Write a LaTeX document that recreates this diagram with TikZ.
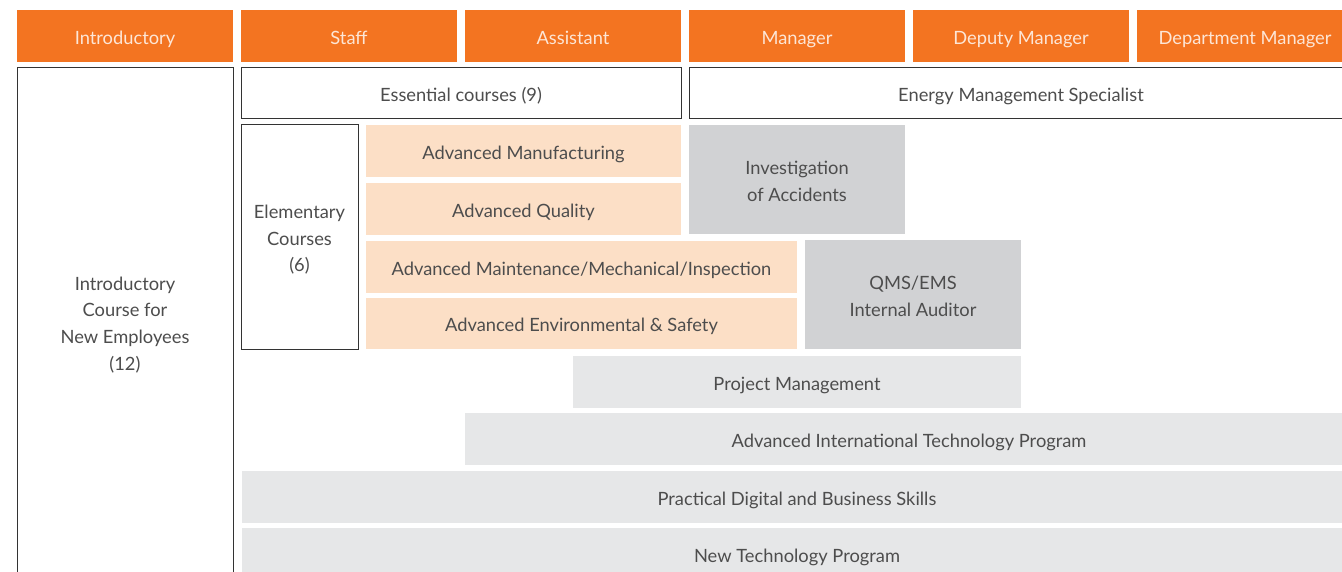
\documentclass[tikz,border=0pt]{standalone}
\usepackage{fontspec}
\setmainfont{Lato}
\definecolor{hdr}{HTML}{F37421}
\definecolor{hdrtxt}{HTML}{FDE6D6}
\definecolor{peach}{HTML}{FCDFC6}
\definecolor{dgray}{HTML}{D1D2D4}
\definecolor{lgray}{HTML}{E6E7E8}
\definecolor{txt}{HTML}{4D4D4D}
\definecolor{edge}{HTML}{333333}
\newcommand\mystrut{\rule[-4pt]{0pt}{24.6pt}}
\tikzset{
  base/.style={rectangle, inner sep=0pt, outer sep=0pt, align=center, text=txt,
    font=\fontsize{18.3}{26.7}\selectfont},
  header/.style={base, fill=hdr, text=hdrtxt},
  outline/.style={base, draw=edge, line width=1pt, fill=white},
  peachbox/.style={base, fill=peach},
  darkbox/.style={base, fill=dgray},
  lightbox/.style={base, fill=lgray},
}
% \bx{name}{x1}{y1}{x2}{y2}{style}{text}
\newcommand\bx[7]{\node[#6, minimum width={(#4-#2)*1pt}, minimum height={(#5-#3)*1pt}]
  (#1) at ({(#2+#4)/2},{-(#3+#5)/2}) {\mystrut#7\mystrut};}
\newcommand\lbl[4]{\node[base,#4] (#1) at (#2) {\mystrut#3\mystrut};}
\begin{document}
\begin{tikzpicture}[x=1pt,y=1pt]
\useasboundingbox (0,0) rectangle (1342,-572);
\clip (0,0) rectangle (1342,-572);
% headers
\bx{h1}{17}{10}{233}{62}{header}{Introductory}
\bx{h2}{241}{10}{457}{62}{header}{Staff}
\bx{h3}{465}{10}{681}{62}{header}{Assistant}
\bx{h4}{689}{10}{905}{62}{header}{Manager}
\bx{h5}{913}{10}{1129}{62}{header}{Deputy Manager}
\bx{h6}{1137}{10}{1353}{62}{header}{}
\lbl{h6t}{1245,-36}{Department Manager}{text=hdrtxt}
% introductory column
\bx{intro}{17}{68}{233}{600}{outline}{}
\lbl{introt}{125,-322}{Introductory\\Course for\\New Employees\\(12)}{}
% row 2
\bx{ess}{241}{68}{681}{119}{outline}{Essential courses (9)}
\bx{ems}{689}{68}{1360}{119}{outline}{}
\lbl{emst}{1021,-93.5}{Energy Management Specialist}{}
% elementary
\bx{elem}{241}{125}{358}{349}{outline}{Elementary\\Courses\\(6)}
\bx{am}{366}{125}{681}{177}{peachbox}{Advanced Manufacturing}
\bx{aq}{366}{183}{681}{235}{peachbox}{Advanced Quality}
\bx{amm}{366}{241}{797}{293}{peachbox}{Advanced Maintenance/Mechanical/Inspection}
\bx{aes}{366}{298}{797}{349}{peachbox}{Advanced Environmental \& Safety}
\bx{inv}{689}{125}{905}{234}{darkbox}{Investigation\\of Accidents}
\bx{qms}{805}{240}{1021}{349}{darkbox}{QMS/EMS\\Internal Auditor}
\bx{pm}{573}{356}{1021}{408}{lightbox}{Project Management}
\bx{ait}{465}{413}{1360}{465}{lightbox}{}
\lbl{aitt}{909,-439}{Advanced International Technology Program}{}
\bx{pdb}{242}{471}{1360}{523}{lightbox}{}
\lbl{pdbt}{797,-497}{Practical Digital and Business Skills}{}
\bx{ntp}{242}{528}{1360}{600}{lightbox}{}
\lbl{ntpt}{797,-554}{New Technology Program}{}
\end{tikzpicture}
\end{document}
